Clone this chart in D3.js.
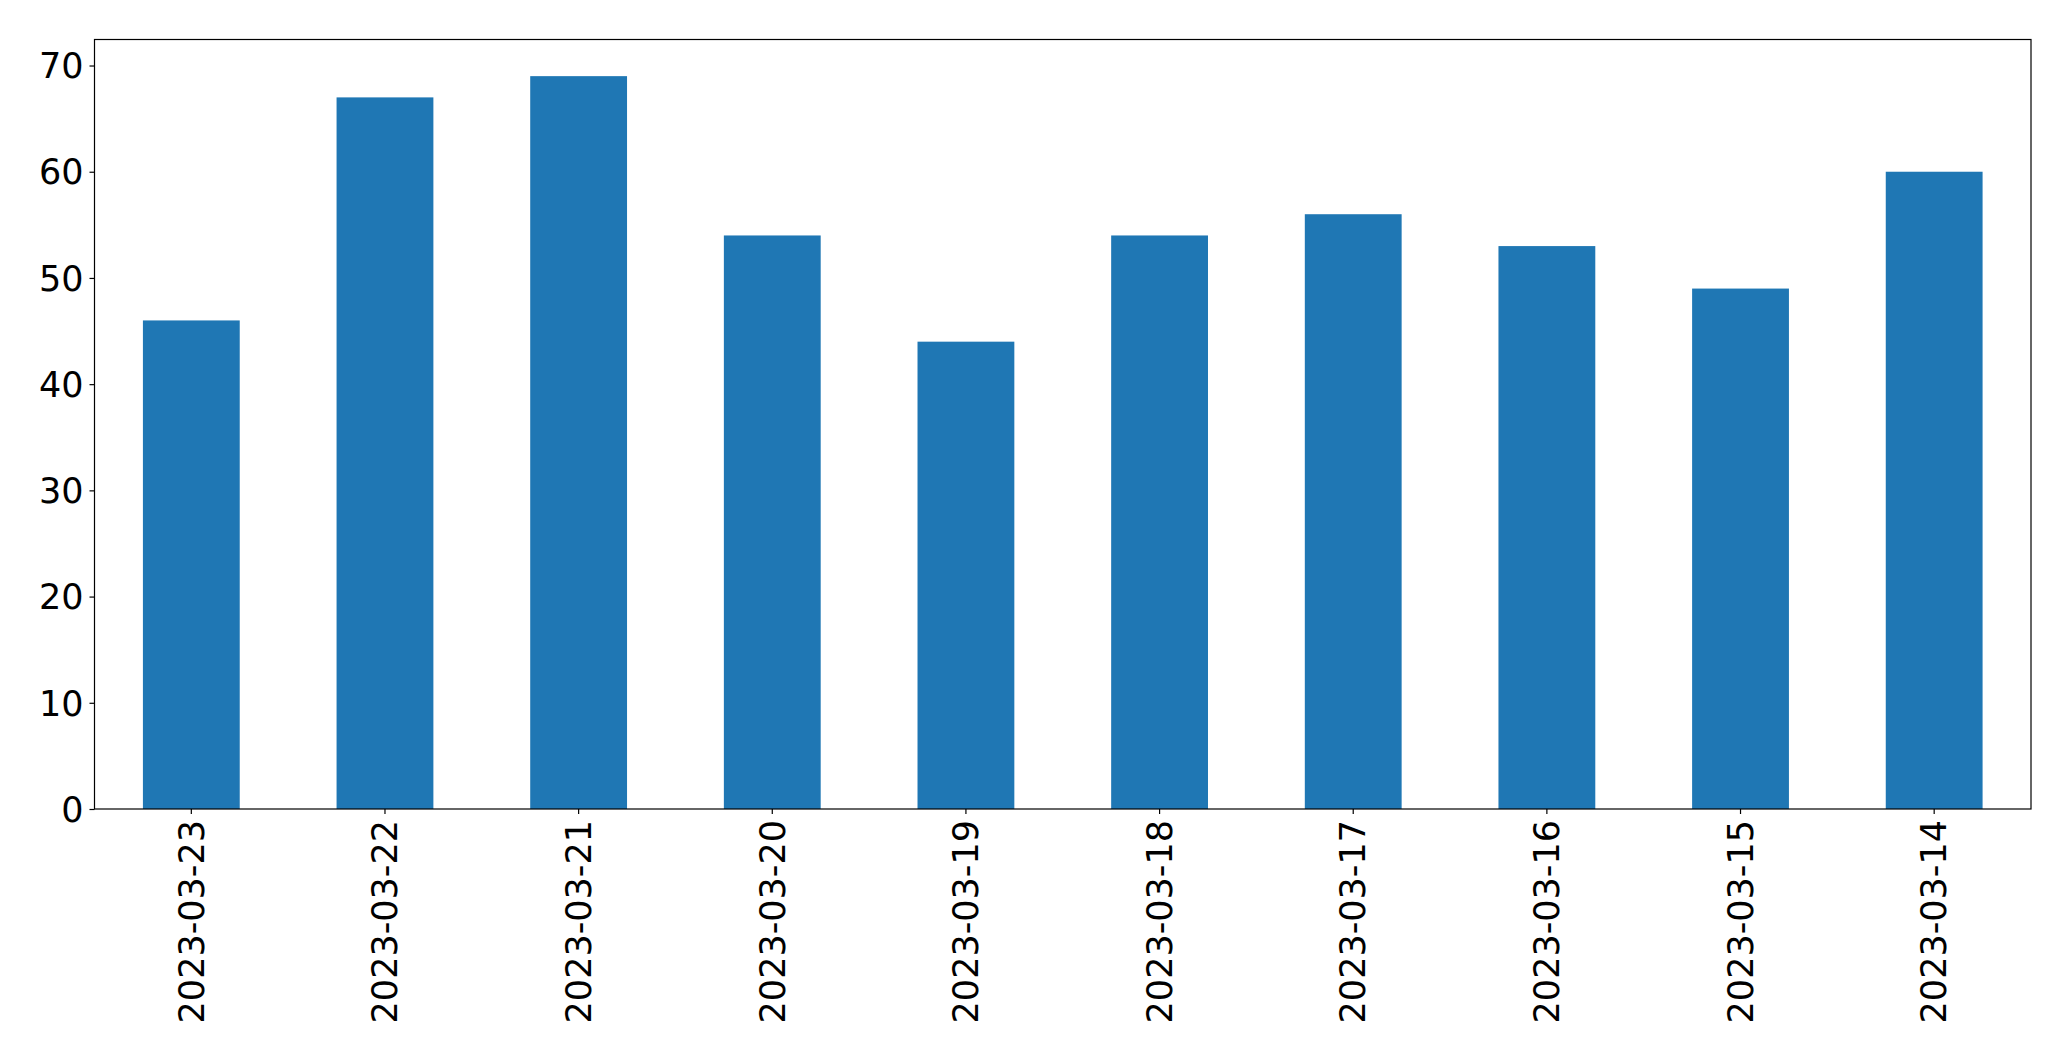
<!DOCTYPE html>
<html>
<head>
<meta charset="utf-8">
<script src="https://cdn.jsdelivr.net/npm/d3@7"></script>
<style>
    body { margin: 0; background: #fff; }
    svg text { font-family: "DejaVu Sans", sans-serif; fill: #000; }
</style>
</head>
<body>
<svg id="chart" width="2071" height="1061"></svg>
<script>
// dates as they appear on the x axis
let dates = ["2023-03-23", "2023-03-22", "2023-03-21", "2023-03-20", "2023-03-19",
             "2023-03-18", "2023-03-17", "2023-03-16", "2023-03-15", "2023-03-14"];

// count per day
let counts = [46, 67, 69, 54, 44, 54, 56, 53, 49, 60];

let yTicks = [0, 10, 20, 30, 40, 50, 60, 70];

let margin = {top: 39.5, right: 40, bottom: 252, left: 94.5};
let width = 2071 - margin.left - margin.right;
let height = 1061 - margin.top - margin.bottom;
let fontSize = 35;

let svg = d3.select("#chart");
let g = svg.append("g")
    .attr("transform", "translate(" + margin.left + "," + margin.top + ")");

let x = d3.scaleBand()
    .domain(dates)
    .range([0, width])
    .paddingInner(0.5)
    .paddingOuter(0.25);

let y = d3.scaleLinear()
    .domain([0, d3.max(counts) * 1.05])
    .range([height, 0]);

// bars
g.selectAll("rect.bar")
    .data(counts)
    .enter()
    .append("rect")
    .attr("class", "bar")
    .attr("x", function (d, i) { return x(dates[i]); })
    .attr("y", function (d) { return y(d); })
    .attr("width", x.bandwidth())
    .attr("height", function (d) { return height - y(d); })
    .attr("fill", "#1f77b4");

// y axis
let yAxis = g.append("g")
    .call(d3.axisLeft(y).tickValues(yTicks).tickSize(5).tickPadding(6).tickFormat(d3.format("d")));
yAxis.select(".domain").remove();
yAxis.selectAll("line").attr("stroke", "#000").attr("stroke-width", 1.2);
yAxis.selectAll("text").style("font-size", fontSize + "px").attr("dy", "0.35em");

// x axis
let xAxis = g.append("g")
    .attr("transform", "translate(0," + height + ")")
    .call(d3.axisBottom(x).tickSize(5).tickPadding(0));
xAxis.select(".domain").remove();
xAxis.selectAll("line").attr("stroke", "#000").attr("stroke-width", 1.2);
xAxis.selectAll("text")
    .style("font-size", fontSize + "px")
    .attr("text-anchor", "end")
    .attr("transform", "rotate(-90)")
    .attr("x", -11)
    .attr("y", 0)
    .attr("dy", "0.35em");

// frame
g.append("rect")
    .attr("x", 0)
    .attr("y", 0)
    .attr("width", width)
    .attr("height", height)
    .attr("fill", "none")
    .attr("stroke", "#000")
    .attr("stroke-width", 1.2);
</script>
</body>
</html>
